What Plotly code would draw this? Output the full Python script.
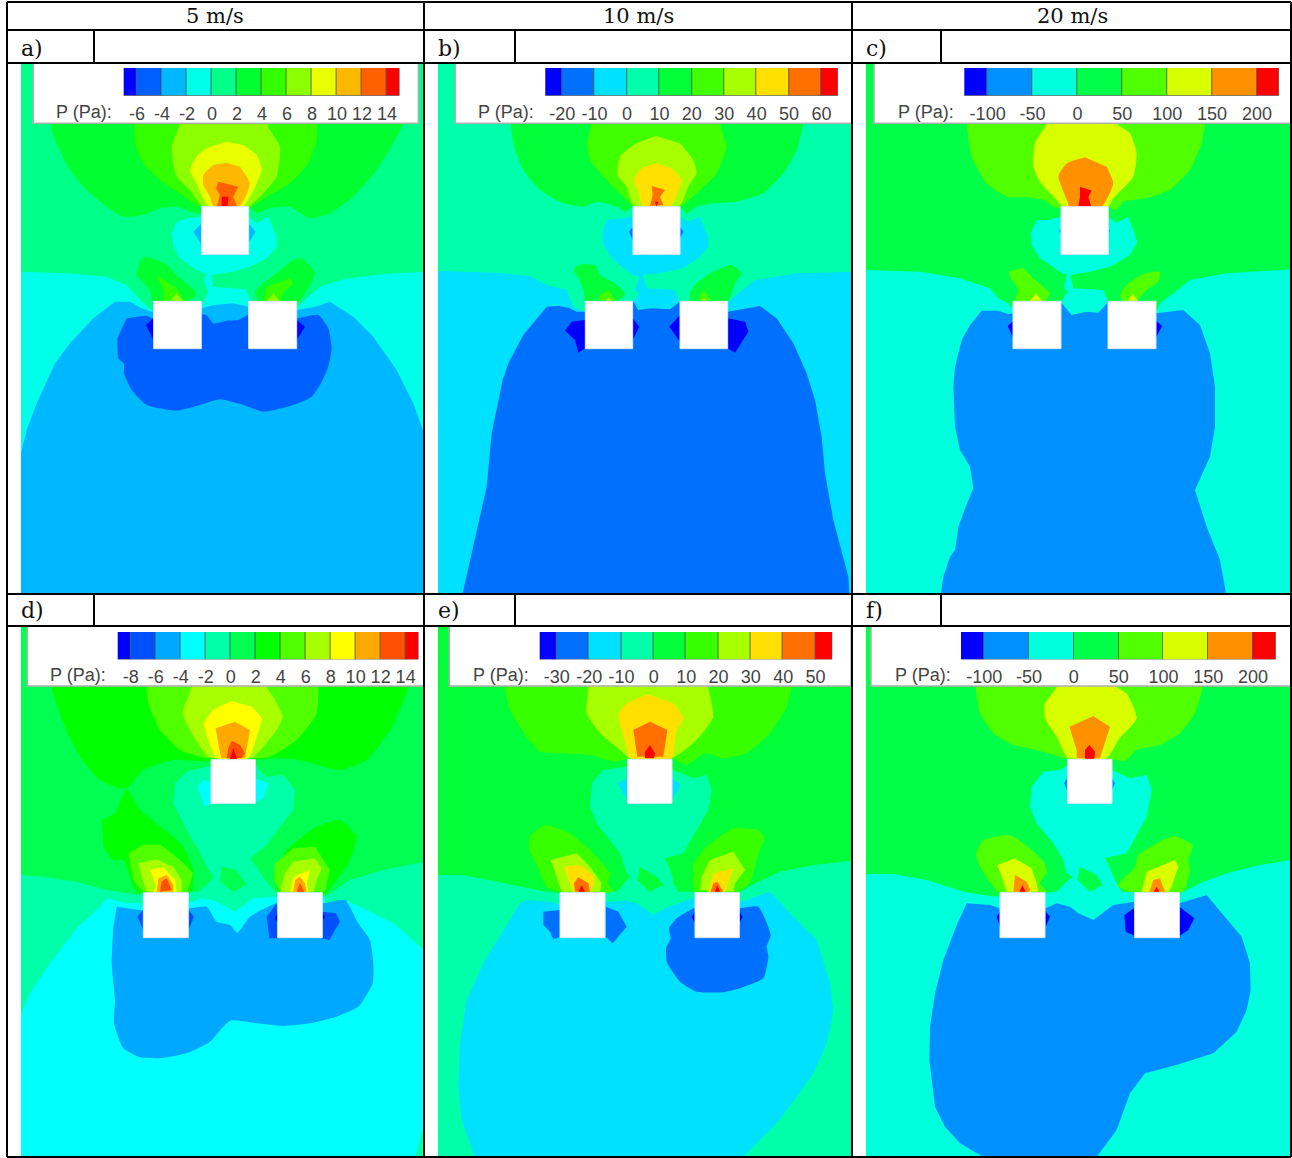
import plotly.graph_objects as go

# ---------- pressure legends: class edges (Pa), tick labels, class colours ----------
edges_a = [-7.07, -6, -4, -2, 0, 2, 4, 6, 8, 10, 12, 14, 15.04]
edges_b = [-25.2, -20, -10, 0, 10, 20, 30, 40, 50, 60, 65.1]
edges_c = [-126, -100, -50, 0, 50, 100, 150, 200, 224.5]
edges_d = [-9.04, -8, -6, -4, -2, 0, 2, 4, 6, 8, 10, 12, 14, 15.07]
edges_e = [-35.3, -30, -20, -10, 0, 10, 20, 30, 40, 50, 55.2]
edges_f = [-126, -100, -50, 0, 50, 100, 150, 200, 226]

colors_a = ["#0000ff", "#0060ff", "#00b8ff", "#00ffe8", "#00ff88", "#00ff30", "#33ff00", "#8cff00", "#e8ff00", "#ffb800", "#ff6000", "#ff0000"]
colors_b = ["#0000ff", "#0070ff", "#00e0ff", "#00ffaa", "#00ff38", "#40ff00", "#a8ff00", "#ffe000", "#ff7000", "#ff0000"]
colors_c = ["#0000ff", "#0090ff", "#00ffdd", "#00ff48", "#50ff00", "#d8ff00", "#ff9000", "#ff0000"]
colors_d = ["#0000ff", "#0050ff", "#00a8ff", "#00ffff", "#00ffa8", "#00ff50", "#00ff00", "#50ff00", "#a8ff00", "#ffff00", "#ffa800", "#ff5000", "#ff0000"]
colors_e = ["#0000ff", "#0070ff", "#00e0ff", "#00ffa8", "#00ff38", "#38ff00", "#a8ff00", "#ffe000", "#ff7000", "#ff0000"]
colors_f = ["#0000ff", "#0090ff", "#00ffdd", "#00ff48", "#50ff00", "#d8ff00", "#ff9000", "#ff0000"]

column_titles = ["5 m/s", "10 m/s", "20 m/s"]
panel_labels = ["a)", "b)", "c)", "d)", "e)", "f)"]
legend_title = "P (Pa):"

# ---------- pressure regions: (class index, outline in field units) ----------
regions_a = [
 (4, [(63,189),(1272,189),(1272,1782),(63,1782)]),
 (3, [(63,1782),(63,815),(200,820),(320,830),(380,855),(415,895),(455,930),(500,935),(610,905),(625,875),(610,840),(622,825),(580,805),(540,775),(520,735),(515,700),(530,665),(565,655),(605,650),(680,640),(745,650),(770,670),(805,650),(830,710),(830,740),(800,775),(750,800),(700,815),(635,825),(640,860),(735,868),(750,895),(760,935),(890,925),(925,890),(960,860),(1030,838),(1150,822),(1272,815),(1272,1782)]),
 (2, [(63,1782),(63,1360),(80,1290),(110,1210),(165,1090),(210,1030),(280,955),(345,905),(390,905),(425,925),(455,935),(605,925),(640,915),(700,910),(745,920),(890,930),(945,920),(990,905),(1060,950),(1120,1010),(1190,1110),(1240,1210),(1272,1300),(1272,1782)]),
 (1, [(380,955),(440,948),(460,955),(618,945),(640,970),(680,962),(715,960),(745,945),(890,955),(955,945),(985,985),(995,1045),(985,1100),(960,1155),(935,1190),(880,1215),(790,1235),(730,1215),(660,1198),(600,1215),(530,1232),(440,1215),(395,1170),(372,1120),(372,1092),(355,1075),(352,1015)]),
 (0, [(438,975),(460,955),(460,1020)]),
 (0, [(890,960),(915,980),(890,1020)]),
 (2, [(580,695),(605,670),(605,735)]),
 (2, [(745,670),(767,695),(745,730)]),
 (5, [(150,189),(150,370),(165,420),(210,510),(260,570),(320,620),(370,650),(430,645),(480,625),(530,620),(590,640),(610,640),(680,620),(745,620),(770,640),(810,625),(870,620),(930,655),(990,640),(1060,590),(1130,510),(1180,430),(1210,370),(1210,189)]),
 (6, [(403,189),(403,370),(405,430),(430,490),(480,540),(540,580),(610,625),(745,625),(800,590),(870,550),(925,490),(950,420),(950,189)]),
 (7, [(540,189),(540,370),(515,440),(518,480),(530,530),(570,570),(610,620),(745,620),(780,590),(830,530),(840,440),(800,370),(800,189)]),
 (8, [(680,425),(620,445),(590,470),(570,510),(590,550),(625,620),(730,620),(785,510),(770,465),(730,435)]),
 (9, [(680,488),(640,495),(610,525),(610,555),(630,590),(640,618),(720,618),(750,550),(720,500)]),
 (10, [(655,545),(715,560),(700,590),(712,620),(650,620),(660,585),(648,565)]),
 (11, [(665,590),(685,590),(683,620),(665,620)]),
 (5, [(408,825),(420,785),(435,770),(495,790),(530,825),(590,880),(565,905),(460,905),(450,870)]),
 (6, [(470,825),(530,865),(555,905),(490,905),(490,870)]),
 (7, [(510,905),(530,880),(550,905)]),
 (5, [(765,875),(790,850),(830,820),(880,780),(905,775),(945,820),(895,905),(775,905)]),
 (6, [(790,905),(800,860),(870,835),(880,850),(850,880),(840,905)]),
 (7, [(800,905),(820,880),(840,905)]),
]

regions_b = [
 (3, [(24,189),(1266,189),(1266,1782),(24,1782)]),
 (2, [(24,1782),(24,813),(200,818),(300,828),(350,855),(410,870),(430,920),(465,935),(610,902),(628,880),(615,870),(628,830),(610,825),(575,800),(545,775),(520,735),(517,700),(530,660),(575,655),(610,650),(680,640),(750,650),(775,665),(808,650),(835,710),(835,740),(810,770),(760,805),(690,820),(638,825),(650,865),(735,870),(745,900),(750,935),(893,930),(895,905),(925,880),(975,840),(1100,820),(1266,815),(1266,1782)]),
 (1, [(98,1780),(125,1660),(150,1540),(170,1460),(185,1300),(205,1200),(218,1140),(235,1090),(280,1005),(350,920),(385,918),(415,923),(440,935),(465,935),(610,905),(625,930),(665,925),(720,928),(750,905),(893,935),(990,918),(1040,955),(1090,1030),(1130,1120),(1155,1200),(1175,1310),(1185,1420),(1210,1560),(1255,1730),(1258,1780)]),
 (0, [(405,992),(425,965),(465,960),(465,1045),(445,1058),(435,1020)]),
 (0, [(608,955),(628,980),(608,1020)]),
 (0, [(750,945),(718,980),(750,1025)]),
 (0, [(893,955),(945,965),(955,995),(915,1058),(893,1045)]),
 (1, [(597,695),(610,680),(610,722)]),
 (1, [(750,680),(760,695),(750,715)]),
 (4, [(243,189),(243,370),(250,430),(280,510),(330,570),(400,610),(460,620),(500,605),(560,620),(585,635),(610,620),(750,620),(770,640),(800,620),(850,610),(920,605),(1000,580),(1060,520),(1100,450),(1120,370),(1120,189)]),
 (5, [(483,189),(483,370),(472,430),(480,480),(530,540),(600,610),(610,620),(750,620),(800,580),(860,520),(890,440),(870,370),(870,189)]),
 (6, [(680,408),(620,430),(570,470),(562,525),(590,560),(610,615),(750,615),(775,560),(800,520),(790,480),(750,430)]),
 (7, [(680,490),(635,505),(612,540),(625,575),(640,620),(720,620),(755,540),(725,505)]),
 (8, [(665,558),(705,570),(690,590),(700,615),(660,618),(668,585)]),
 (9, [(675,605),(685,605),(680,620)]),
 (4, [(430,810),(445,795),(495,795),(510,825),(555,850),(585,880),(565,902),(466,902),(462,875),(445,835)]),
 (5, [(505,900),(510,885),(535,870),(555,900)]),
 (6, [(528,902),(536,892),(545,902)]),
 (4, [(778,880),(795,855),(840,820),(905,795),(935,820),(915,850),(905,880),(895,902),(780,902)]),
 (5, [(805,900),(820,870),(845,900)]),
 (6, [(815,902),(822,895),(830,902)]),
]

regions_c = [
 (3, [(18,189),(1293,189),(1293,1782),(18,1782)]),
 (2, [(18,1782),(18,810),(180,815),(300,835),(390,865),(415,895),(445,910),(460,930),(605,902),(622,875),(612,860),(620,825),(600,815),(540,775),(515,735),(512,700),(530,660),(565,660),(602,650),(680,640),(745,650),(770,668),(805,650),(832,725),(810,765),(750,800),(690,815),(630,825),(640,865),(730,870),(745,905),(745,935),(888,940),(900,910),(940,880),(990,840),(1100,820),(1293,808),(1293,1782)]),
 (1, [(243,1780),(250,1730),(270,1670),(285,1650),(295,1580),(317,1520),(340,1465),(330,1400),(300,1350),(285,1280),(280,1160),(285,1100),(305,1020),(330,975),(365,932),(415,932),(445,942),(460,940),(605,910),(635,945),(680,935),(715,938),(745,905),(888,940),(970,930),(1020,975),(1050,1060),(1065,1160),(1065,1280),(1050,1370),(1005,1470),(1040,1580),(1080,1680),(1098,1780)]),
 (0, [(443,978),(460,963),(460,1015)]),
 (0, [(888,963),(907,978),(888,1012)]),
 (1, [(597,692),(603,686),(603,700)]),
 (1, [(745,686),(750,692),(745,700)]),
 (4, [(320,189),(320,370),(335,470),(380,550),(440,590),(500,592),(550,600),(590,625),(603,622),(745,622),(770,630),(790,605),(860,595),(930,570),(990,510),(1025,430),(1035,370),(1035,189)]),
 (5, [(560,189),(560,370),(525,430),(520,500),(540,545),(590,600),(610,620),(745,620),(760,595),(820,530),(830,460),(810,400),(770,370),(770,189)]),
 (6, [(675,472),(620,490),(595,530),(625,610),(625,620),(725,620),(760,550),(740,500)]),
 (7, [(660,560),(695,572),(685,590),(693,618),(655,618),(660,590)]),
 (4, [(445,815),(490,805),(520,835),(570,880),(555,902),(465,902),(475,870),(455,840)]),
 (5, [(510,902),(528,880),(545,902)]),
 (4, [(780,885),(800,855),(855,820),(900,815),(895,845),(860,870),(830,902),(785,902)]),
 (5, [(803,902),(818,883),(835,902)]),
]

regions_d = [
 (5, [(63,108),(1272,108),(1272,1701),(63,1701)]),
 (6, [(155,108),(155,290),(190,400),(240,500),(300,570),(360,595),(380,595),(430,540),(520,510),(620,515),(770,510),(830,505),(900,510),(1020,540),(1100,510),(1170,420),(1225,290),(1225,108)]),
 (7, [(440,108),(440,290),(445,340),(480,420),(540,480),(620,505),(770,505),(810,500),(890,450),(950,370),(950,108)]),
 (8, [(575,108),(575,290),(548,370),(570,420),(625,500),(760,500),(830,420),(848,380),(820,320),(800,290),(800,108)]),
 (9, [(695,333),(640,360),(612,400),(632,470),(650,505),(745,505),(770,440),(785,385),(755,350)]),
 (10, [(705,395),(647,415),(660,490),(665,505),(735,505),(750,420)]),
 (11, [(695,452),(720,465),(735,490),(725,505),(680,505),(685,475)]),
 (12, [(700,475),(712,508),(690,508)]),
 (4, [(63,1701),(63,855),(130,860),(230,875),(320,900),(420,915),(432,905),(595,905),(635,870),(640,860),(620,830),(600,790),(560,720),(520,640),(525,580),(560,545),(620,530),(700,520),(765,525),(800,560),(850,555),(885,600),(880,660),(840,710),(800,765),(750,805),(770,830),(795,870),(825,905),(970,905),(975,920),(1050,870),(1150,840),(1272,815),(1272,1701)]),
 (5, [(665,830),(710,840),(740,885),(700,905),(660,875)]),
 (6, [(305,690),(345,670),(380,598),(420,660),(470,700),(550,770),(580,840),(575,905),(410,905),(370,810),(340,810),(310,770)]),
 (7, [(385,790),(430,765),(480,765),(540,810),(578,850),(570,880),(560,905),(430,905),(400,870)]),
 (8, [(415,820),(470,808),(520,830),(545,870),(545,905),(440,905),(425,860)]),
 (9, [(450,840),(490,832),(525,870),(530,905),(460,905),(470,890)]),
 (10, [(475,865),(500,855),(520,885),(520,905),(470,905)]),
 (11, [(485,875),(500,865),(515,900),(480,905)]),
 (6, [(820,860),(860,780),(950,710),(1020,690),(1070,740),(1050,810),(1010,870),(970,915),(835,905)]),
 (7, [(822,870),(825,820),(880,775),(945,770),(990,840),(975,905),(840,905)]),
 (8, [(840,905),(855,850),(880,815),(945,805),(965,835),(950,870),(940,905)]),
 (9, [(870,905),(880,860),(930,840),(920,880),(925,905)]),
 (10, [(880,905),(885,870),(900,860),(915,880),(920,905)]),
 (11, [(890,905),(900,878),(912,905)]),
 (3, [(63,1270),(90,1210),(150,1120),(230,1015),(300,950),(320,925),(380,940),(420,940),(430,960),(565,935),(580,935),(600,925),(640,930),(705,965),(760,925),(830,920),(970,920),(980,945),(1035,930),(1100,960),(1180,1000),(1272,1080),(1272,1600),(1245,1701),(63,1701)]),
 (2, [(350,950),(420,960),(565,955),(620,950),(650,995),(690,1005),(712,1028),(750,980),(830,940),(970,940),(1035,930),(1075,1000),(1110,1050),(1120,1120),(1118,1180),(1078,1248),(1010,1280),(930,1300),(850,1308),(770,1300),(690,1292),(630,1355),(560,1390),(480,1405),(420,1402),(370,1375),(342,1300),(345,1230),(335,1120),(340,1010)]),
 (1, [(830,940),(800,980),(808,1045),(835,1045)]),
 (1, [(968,965),(1008,970),(1020,995),(988,1050),(965,1045)]),
 (1, [(412,980),(430,960),(430,1020)]),
 (1, [(565,960),(582,980),(565,1020)]),
 (0, [(835,965),(825,985),(835,1000)]),
 (0, [(965,965),(975,980),(965,995)]),
 (3, [(590,590),(610,570),(633,575),(633,640),(612,650),(605,620)]),
 (3, [(765,565),(805,580),(790,625),(765,635)]),
]

regions_e = [
 (4, [(24,108),(1266,108),(1266,1701),(24,1701)]),
 (5, [(225,108),(225,290),(240,360),(290,440),(330,485),(400,490),(480,495),(555,515),(600,505),(725,505),(770,525),(825,490),(880,505),(950,490),(1020,430),(1070,350),(1085,290),(1085,108)]),
 (6, [(475,108),(475,290),(470,370),(510,430),(570,480),(600,505),(725,505),(800,450),(850,380),(835,290),(835,108)]),
 (7, [(655,313),(590,340),(565,375),(590,470),(600,505),(725,505),(740,420),(760,385),(730,340)]),
 (8, [(660,395),(610,420),(622,500),(700,500),(712,420)]),
 (9, [(660,465),(675,490),(672,505),(645,505),(645,485)]),
 (3, [(24,1701),(24,855),(100,855),(200,875),(280,890),(350,905),(390,910),(560,905),(600,860),(590,850),(570,790),(540,750),(500,700),(480,650),(485,580),(520,540),(590,530),(660,520),(730,540),(790,565),(830,555),(845,600),(835,660),(800,720),(760,790),(705,805),(725,850),(730,880),(745,905),(930,905),(965,885),(1050,845),(1150,825),(1266,812),(1266,1701)]),
 (4, [(630,830),(680,860),(700,885),(660,905),(622,870)]),
 (5, [(298,780),(300,740),(345,705),(420,730),(480,780),(540,850),(535,880),(550,905),(390,905),(350,890),(320,825)]),
 (6, [(362,810),(440,790),(480,830),(515,880),(510,905),(395,905),(380,860)]),
 (7, [(402,830),(450,825),(490,855),(492,880),(480,905),(430,905)]),
 (8, [(432,880),(445,862),(475,880),(480,905),(435,905)]),
 (9, [(445,905),(455,885),(465,905)]),
 (5, [(790,820),(830,770),(910,715),(985,720),(1003,745),(985,790),(960,880),(925,905),(795,905),(790,860)]),
 (6, [(810,900),(815,860),(840,810),(910,785),(945,840),(915,880),(910,905)]),
 (7, [(835,905),(850,850),(910,835),(885,905)]),
 (8, [(842,905),(850,880),(862,875),(880,905)]),
 (9, [(855,905),(862,885),(870,905)]),
 (2, [(135,1701),(95,1590),(85,1490),(90,1360),(110,1230),(165,1110),(230,1005),(270,940),(290,930),(360,935),(392,945),(527,935),(590,932),(620,940),(670,975),(705,955),(790,925),(935,935),(1020,905),(1090,980),(1160,1050),(1200,1180),(1210,1265),(1190,1360),(1150,1450),(1100,1520),(1040,1600),(1000,1640),(940,1701)]),
 (1, [(340,965),(390,960),(392,1040),(370,1048),(360,1025),(340,1005)]),
 (1, [(527,950),(565,965),(590,1010),(548,1060),(527,1042)]),
 (1, [(790,955),(740,985),(717,1015),(722,1045),(708,1075),(712,1120),(750,1175),(800,1205),(880,1207),(930,1195),(1000,1165),(1015,1100),(1010,1070),(1022,1035),(985,950),(930,955)]),
 (0, [(795,965),(785,980),(795,1000)]),
 (0, [(928,965),(938,980),(928,1000)]),
 (2, [(562,580),(593,565),(593,625),(580,610)]),
 (2, [(727,565),(752,585),(727,630)]),
]

regions_f = [
 (3, [(18,108),(1293,108),(1293,1701),(18,1701)]),
 (4, [(347,108),(347,290),(360,370),(400,430),(460,465),(530,480),(600,500),(623,508),(756,508),(795,513),(830,480),(900,465),(960,430),(1005,370),(1028,290),(1028,108)]),
 (5, [(590,108),(590,290),(555,340),(555,385),(590,440),(620,500),(630,505),(740,505),(775,450),(830,385),(800,310),(770,290),(770,108)]),
 (6, [(700,378),(628,410),(650,480),(650,505),(720,505),(750,410)]),
 (7, [(688,465),(705,485),(703,508),(675,508),(675,480)]),
 (2, [(18,1701),(18,852),(100,852),(200,870),(310,905),(390,918),(420,920),(590,905),(625,870),(640,860),(620,850),(610,810),(580,760),(530,700),(510,650),(515,590),(550,545),(600,540),(623,525),(756,540),(810,565),(860,555),(875,600),(860,680),(800,790),(735,805),(750,835),(765,870),(785,905),(965,908),(1030,875),(1100,850),(1200,825),(1293,810),(1293,1701)]),
 (3, [(660,830),(710,855),(728,885),(690,905),(652,870)]),
 (4, [(347,795),(370,750),(450,735),(510,775),(555,820),(560,850),(540,880),(560,905),(415,905),(385,870),(360,830)]),
 (5, [(412,825),(465,805),(515,835),(530,880),(535,905),(440,905),(425,860)]),
 (6, [(460,905),(465,855),(500,875),(512,900),(505,905)]),
 (7, [(478,905),(487,885),(497,905)]),
 (4, [(770,885),(825,830),(835,795),(940,738),(998,765),(985,810),(990,840),(970,905),(800,905)]),
 (5, [(845,905),(860,845),(945,810),(955,830),(935,890),(925,905)]),
 (6, [(868,905),(880,870),(900,865),(915,905)]),
 (7, [(882,905),(890,890),(898,905)]),
 (1, [(320,940),(390,945),(420,955),(557,955),(590,940),(630,950),(655,970),(700,990),(760,945),(822,935),(958,940),(1040,915),(1090,975),(1145,1040),(1170,1120),(1172,1200),(1160,1260),(1130,1325),(1060,1390),(950,1425),(855,1450),(810,1510),(770,1620),(710,1701),(370,1701),(300,1660),(255,1610),(225,1550),(208,1410),(210,1310),(225,1210),(250,1110),(290,1005)]),
 (0, [(420,965),(410,980),(420,1010)]),
 (0, [(557,965),(570,980),(557,1010)]),
 (0, [(822,955),(793,975),(797,1025),(825,1038)]),
 (0, [(958,950),(1003,985),(985,1020),(958,1038)]),
 (1, [(612,580),(623,560),(623,605)]),
 (1, [(756,565),(765,580),(756,600)]),
]

# ---------- obstacles (x0, x1, y0, y1) and legend panels (x0, x1, y0, y1) in field units ----------
blocks_a = [(605,746,620,763), (461,604,904,1046), (746,890,904,1046)]
blocks_b = [(609,750,620,763), (466,608,904,1046), (750,893,904,1046)]
blocks_c = [(603,745,620,763), (459,603,904,1046), (744,888,904,1046)]
blocks_d = [(633,766,509,640), (430,565,908,1043), (833,967,908,1043)]
blocks_e = [(593,726,508,640), (390,525,908,1043), (795,928,908,1043)]
blocks_f = [(623,756,508,640), (420,555,908,1043), (824,958,908,1043)]

box_a = (100,1255,190,370)
box_b = (76,1266,190,370)
box_c = (42,1293,190,370)
box_d = (82,1272,109,288)
box_e = (58,1263,109,288)
box_f = (33,1293,109,288)

panels = [
 dict(regions=regions_a, blocks=blocks_a, box=box_a, colors=colors_a, edges=edges_a, dom=(21,424,63,594), xr=(63,1272), yr=(1782,189), bar=(123.7,400,68,96), lab=114, laby=112),
 dict(regions=regions_b, blocks=blocks_b, box=box_b, colors=colors_b, edges=edges_b, dom=(438,852,63,594), xr=(24,1266), yr=(1782,189), bar=(545.3,838,68,96), lab=535.5, laby=112),
 dict(regions=regions_c, blocks=blocks_c, box=box_c, colors=colors_c, edges=edges_c, dom=(866,1291,63,594), xr=(18,1293), yr=(1782,189), bar=(964.3,1279,68,96), lab=955.5, laby=112),
 dict(regions=regions_d, blocks=blocks_d, box=box_d, colors=colors_d, edges=edges_d, dom=(21,424,626,1157), xr=(63,1272), yr=(1701,108), bar=(117.7,419,632,659.5), lab=107.5, laby=675),
 dict(regions=regions_e, blocks=blocks_e, box=box_e, colors=colors_e, edges=edges_e, dom=(438,852,626,1157), xr=(24,1266), yr=(1701,108), bar=(539.7,832.3,632,659.5), lab=530.5, laby=675),
 dict(regions=regions_f, blocks=blocks_f, box=box_f, colors=colors_f, edges=edges_f, dom=(866,1291,626,1157), xr=(18,1293), yr=(1701,108), bar=(961,1276.3,632,659.5), lab=952.5, laby=675),
]

W, H = 1292, 1158
SERIF = "DejaVu Serif"
SANS = "Liberation Sans"
fig = go.Figure()

def xd(a, b):
    return [a / W, b / W]

def yd(top, bottom):
    return [1 - bottom / H, 1 - top / H]

def outline_line(outline, p):
    xs = [q[0] for q in outline]
    ys = [q[1] for q in outline]
    inside = min(xs) > p["xr"][0] and max(xs) < p["xr"][1] and max(ys) < p["yr"][0] - 5
    if inside and len(outline) >= 8:
        return dict(width=0, shape="spline", smoothing=0.5)
    return dict(width=0)

layout_axes = {}
hidden = dict(visible=False, showgrid=False, zeroline=False, fixedrange=True)

for i, p in enumerate(panels, start=1):
    xa, ya = f"x{i}", f"y{i}"
    for cls, outline in p["regions"]:
        fig.add_trace(go.Scatter(x=[q[0] for q in outline], y=[q[1] for q in outline], xaxis=xa, yaxis=ya,
                                 mode="lines", line=outline_line(outline, p), fill="toself", fillcolor=p["colors"][cls],
                                 hoverinfo="skip", showlegend=False))
    for x0, x1, y0, y1 in p["blocks"]:
        fig.add_trace(go.Scatter(x=[x0, x1, x1, x0, x0], y=[y0, y0, y1, y1, y0], xaxis=xa, yaxis=ya,
                                 mode="lines", line=dict(width=1, color="#dfe6ff"), fill="toself", fillcolor="#ffffff",
                                 hoverinfo="skip", showlegend=False))
    x0, x1, y0, y1 = p["box"]
    fig.add_trace(go.Scatter(x=[x0, x1, x1, x0, x0], y=[y0, y0, y1, y1, y0], xaxis=xa, yaxis=ya,
                             mode="lines", line=dict(width=1.5, color="#b0b0b0"), fill="toself", fillcolor="#ffffff",
                             hoverinfo="skip", showlegend=False))
    l, r, t, b = p["dom"]
    layout_axes[f"xaxis{i}"] = dict(domain=xd(l, r), range=list(p["xr"]), anchor=ya, **hidden)
    layout_axes[f"yaxis{i}"] = dict(domain=yd(t, b), range=list(p["yr"]), anchor=xa, **hidden)

for i, p in enumerate(panels, start=1):
    k = i + 6
    xa, ya = f"x{k}", f"y{k}"
    e = p["edges"]
    fig.add_trace(go.Bar(x=[(a + c) / 2 for a, c in zip(e[:-1], e[1:])], y=[1] * (len(e) - 1),
                         width=[c - a for a, c in zip(e[:-1], e[1:])], xaxis=xa, yaxis=ya,
                         marker=dict(color=p["colors"], line=dict(color="rgba(70,70,70,0.6)", width=1)),
                         hoverinfo="skip", showlegend=False))
    l, r, t, b = p["bar"]
    layout_axes[f"xaxis{k}"] = dict(domain=xd(l, r), range=[e[0], e[-1]], anchor=ya, showgrid=False, zeroline=False,
                                    tickmode="array", tickvals=e[1:-1], ticktext=[str(v) for v in e[1:-1]],
                                    ticks="outside", ticklen=1, tickcolor="rgba(0,0,0,0)", showline=False,
                                    tickfont=dict(family=SANS, size=18, color="#444444"), fixedrange=True)
    layout_axes[f"yaxis{k}"] = dict(domain=yd(t, b), range=[0, 1], anchor=xa, visible=False, fixedrange=True)

annotations = []
for title, cx in zip(column_titles, [215, 638, 1072]):
    annotations.append(dict(text=title, x=cx / W, y=1 - 16 / H, xref="paper", yref="paper", showarrow=False,
                            xanchor="center", yanchor="middle", font=dict(family=SERIF, size=21, color="#111111")))
for lab, lx, ly in zip(panel_labels, [19, 436, 864, 19, 436, 864], [48, 48, 48, 610, 610, 610]):
    annotations.append(dict(text=lab, x=lx / W, y=1 - ly / H, xref="paper", yref="paper", showarrow=False,
                            xanchor="left", yanchor="middle", font=dict(family=SERIF, size=22, color="#111111")))
for p in panels:
    annotations.append(dict(text=legend_title, x=p["lab"] / W, y=1 - p["laby"] / H, xref="paper", yref="paper",
                            showarrow=False, xanchor="right", yanchor="middle",
                            font=dict(family=SANS, size=18, color="#444444")))

def rule(x0, y0, x1, y1):
    return dict(type="line", xref="paper", yref="paper", x0=x0 / W, x1=x1 / W, y0=1 - y0 / H, y1=1 - y1 / H,
                line=dict(color="#000000", width=2), layer="above")

shapes = [rule(7, y, 1291, y) for y in (2, 30, 63, 594, 626, 1157)]
shapes += [rule(x, 2, x, 1157) for x in (7, 424, 852, 1291)]
for x in (94, 515, 941):
    shapes += [rule(x, 30, x, 63), rule(x, 594, x, 626)]

fig.update_layout(width=W, height=H, margin=dict(l=0, r=0, t=0, b=0), paper_bgcolor="#ffffff", plot_bgcolor="rgba(0,0,0,0)",
                  showlegend=False, annotations=annotations, shapes=shapes, bargap=0, **layout_axes)

fig.write_html("out.html", post_script="document.body.style.margin='0';document.body.style.overflow='hidden';",
               config=dict(displayModeBar=False))
